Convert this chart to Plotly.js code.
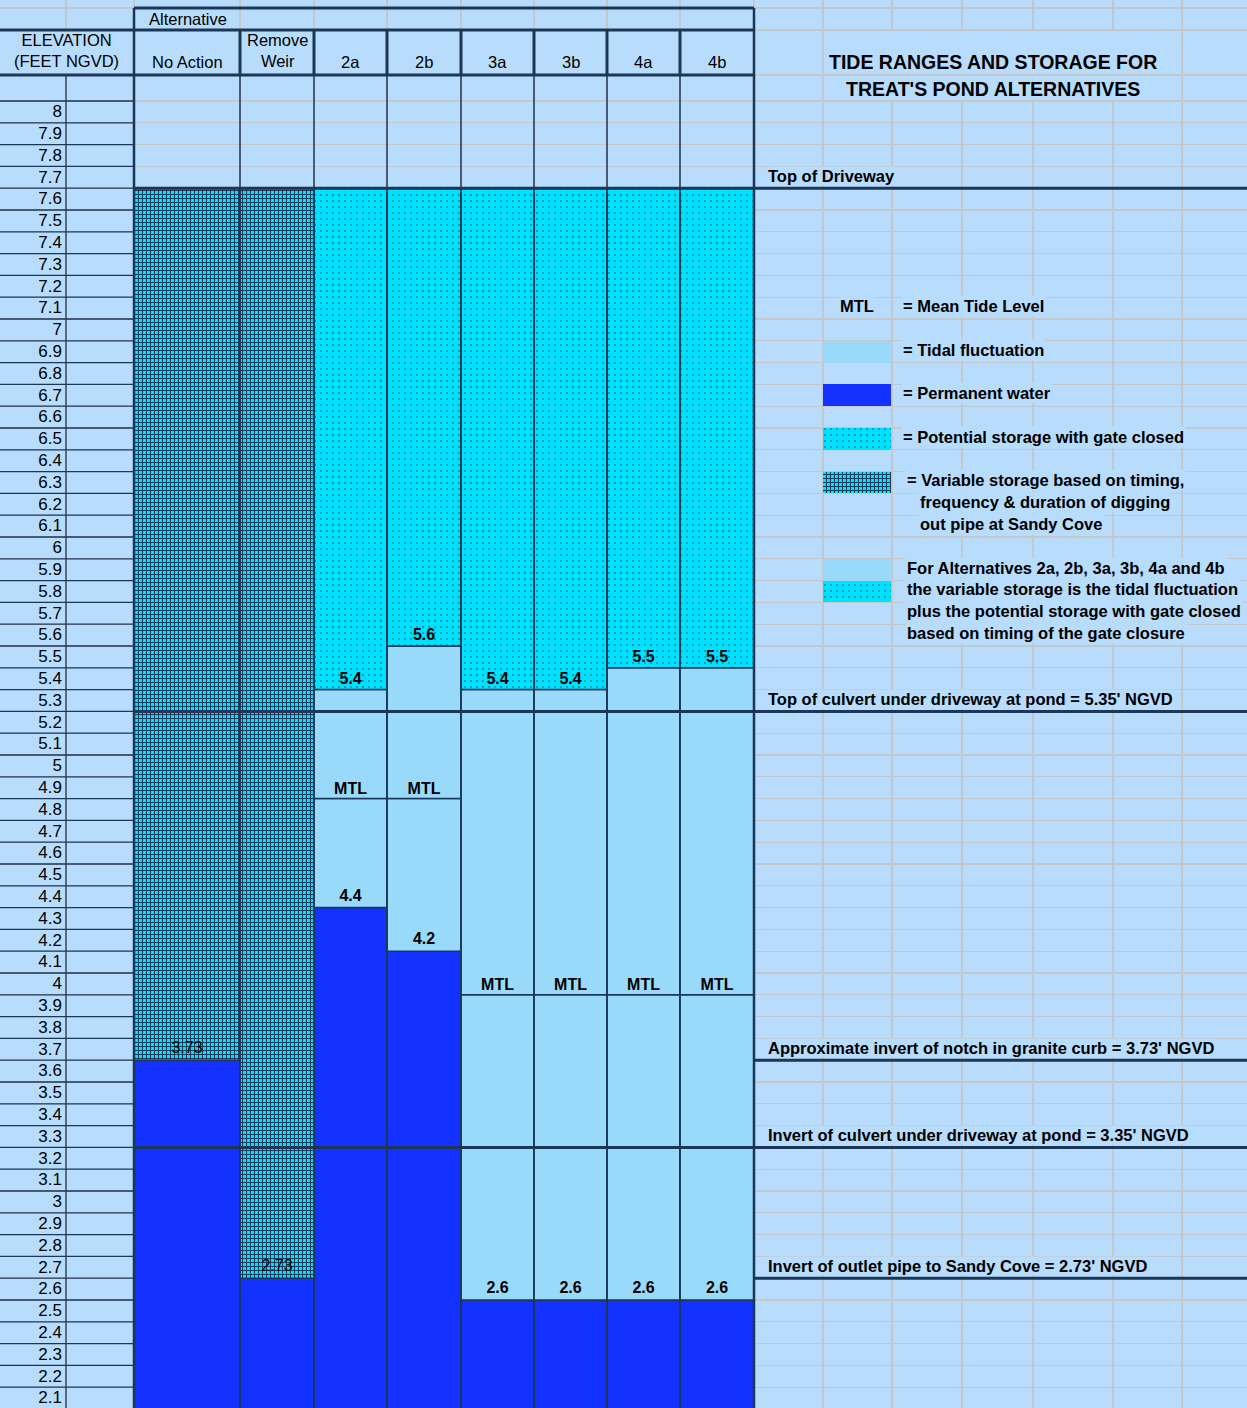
<!DOCTYPE html>
<html>
<head>
<meta charset="utf-8">
<script src="https://cdn.plot.ly/plotly-3.0.1.min.js"></script>
<style>
  html, body { margin: 0; padding: 0; background: #B7DCFC; }
  #chart { width: 1247px; height: 1408px; }
  #chart pattern path, #chart pattern rect { shape-rendering: crispEdges; }
</style>
</head>
<body>
<div id="chart"></div>
<script>
// ================= DATA =================
const alternatives = ['No Action', 'Remove<br>Weir', '2a', '2b', '3a', '3b', '4a', '4b'];
// top of permanent water (ft NGVD)
const permanentWaterTop = [3.73, 2.73, 4.4, 4.2, 2.6, 2.6, 2.6, 2.6];
// mean tide level (only for gate alternatives)
const meanTideLevel = [null, null, 4.9, 4.9, 4.0, 4.0, 4.0, 4.0];
// bottom of potential storage with gate closed
const gateClosedLevel = [null, null, 5.4, 5.6, 5.4, 5.4, 5.5, 5.5];
// top of storage = top of driveway
const storageTop = [7.7, 7.7, 7.7, 7.7, 7.7, 7.7, 7.7, 7.7];

// elevation rows of the sheet (ft NGVD)
const elevationRows = [8, 7.9, 7.8, 7.7, 7.6, 7.5, 7.4, 7.3, 7.2, 7.1, 7, 6.9, 6.8, 6.7, 6.6, 6.5, 6.4, 6.3, 6.2, 6.1,
  6, 5.9, 5.8, 5.7, 5.6, 5.5, 5.4, 5.3, 5.2, 5.1, 5, 4.9, 4.8, 4.7, 4.6, 4.5, 4.4, 4.3, 4.2, 4.1,
  4, 3.9, 3.8, 3.7, 3.6, 3.5, 3.4, 3.3, 3.2, 3.1, 3, 2.9, 2.8, 2.7, 2.6, 2.5, 2.4, 2.3, 2.2, 2.1];

// reference levels and their notes
const referenceLevels = [7.7, 5.35, 3.73, 3.35, 2.73];
const referenceNotes = [
  'Top of Driveway',
  "Top of culvert under driveway at pond = 5.35' NGVD",
  "Approximate invert of notch in granite curb = 3.73' NGVD",
  "Invert of culvert under driveway at pond = 3.35' NGVD",
  "Invert of outlet pipe to Sandy Cove = 2.73' NGVD"
];

// legend texts
const legendText = [
  '= Mean Tide Level',
  '= Tidal fluctuation',
  '= Permanent water',
  '= Potential storage with gate closed',
  '= Variable storage based on timing,',
  'frequency & duration of digging',
  'out pipe at Sandy Cove',
  'For Alternatives 2a, 2b, 3a, 3b, 4a and 4b',
  'the variable storage is the tidal fluctuation',
  'plus the potential storage with gate closed',
  'based on timing of the gate closure'
];
const titleLines = ['TIDE RANGES AND STORAGE FOR', "TREAT'S POND ALTERNATIVES"];
const headerTitle = 'Alternative';
const elevationHeader = 'ELEVATION<br>(FEET NGVD)';

// ================= LAYOUT CONSTANTS =================
const W = 1247, H = 1408;
const COL_EDGES = [134, 240, 314, 387, 461, 534, 607, 680, 754];
const SHEET_COLS = [66, 134, 240, 314, 387, 461, 534, 607, 680, 754, 823, 892, 962, 1033, 1113, 1182];
const PX_TOP = 101, V_TOP = 8.1, PX_PER_FT = 218;
const V = py => V_TOP - (py - PX_TOP) / PX_PER_FT;     // sheet pixel row -> elevation axis
const row = v => Math.floor(v * 10 + 1e-6) / 10;        // spreadsheet row in which a level falls
const BASE = 2.0;
const NOTE_X = 767;
const LEG_X = 857, LEG_W = 68;
const legendTextRow = [7.1, 6.9, 6.7, 6.5, 6.3, 6.2, 6.1, 5.9, 5.8, 5.7, 5.6];
const legendTextX = [901, 901, 901, 901, 905, 918, 918, 905, 905, 905, 905];
const refLineStart = [134, 134, 754, 134, 754];

const C = {
  sheet: '#B7DCFC', grid: '#C5C8CB', border: '#1B3656', tidal: '#99D9FA',
  perm: '#1432FF', cyan: '#00E1FF', dot: '#0E2C44', text: '#000000'
};
const FONT = 'Liberation Sans, Arial, sans-serif';

const cx = i => (COL_EDGES[i] + COL_EDGES[i + 1]) / 2;
const cw = i => COL_EDGES[i + 1] - COL_EDGES[i];
const idxAll = alternatives.map((_, i) => i);
const idxGate = idxAll.filter(i => meanTideLevel[i] !== null);
const idxVar = idxAll.filter(i => meanTideLevel[i] === null);

const hatch = { shape: '+', size: 4, solidity: 0.42, fgcolor: C.border, bgcolor: C.cyan, fillmode: 'replace' };
const dots = { shape: '.', size: 6, solidity: 0.04, fgcolor: C.dot, bgcolor: C.cyan, fillmode: 'replace' };

function barTrace(idx, lo, hi, marker, lineW) {
  return {
    type: 'bar', x: idx.map(cx), base: idx.map(lo), y: idx.map(i => hi(i) - lo(i)),
    width: idx.map(cw), hoverinfo: 'skip', showlegend: false,
    marker: Object.assign({ line: { color: C.border, width: lineW === undefined ? 1.5 : lineW } }, marker)
  };
}

const traces = [];
// bars
traces.push(barTrace(idxAll, () => BASE, i => row(permanentWaterTop[i]), { color: C.perm }));
traces.push(barTrace(idxVar, i => row(permanentWaterTop[i]), i => row(storageTop[i]), { color: C.cyan, pattern: hatch }));
traces.push(barTrace(idxGate, i => row(permanentWaterTop[i]), i => row(meanTideLevel[i]), { color: C.tidal }));
traces.push(barTrace(idxGate, i => row(meanTideLevel[i]), i => row(gateClosedLevel[i]), { color: C.tidal }));
traces.push(barTrace(idxGate, i => row(gateClosedLevel[i]), i => row(storageTop[i]), { color: C.cyan, pattern: dots }));

// legend swatches
function swatch(r, marker) {
  return { type: 'bar', x: [LEG_X], base: [r], y: [0.1], width: [LEG_W], hoverinfo: 'skip', showlegend: false,
    marker: Object.assign({ line: { width: 0 } }, marker) };
}
traces.push(swatch(legendTextRow[1], { color: C.tidal }));
traces.push(swatch(legendTextRow[2], { color: C.perm }));
traces.push(swatch(legendTextRow[3], { color: C.cyan, pattern: dots }));
traces.push(swatch(legendTextRow[4], { color: C.cyan, pattern: hatch }));
traces.push(swatch(legendTextRow[7], { color: C.tidal }));
traces.push(swatch(legendTextRow[8], { color: C.cyan, pattern: dots }));

// reference lines
const rx = [], ry = [];
referenceLevels.forEach((v, k) => { rx.push(refLineStart[k], W, null); ry.push(row(v), row(v), null); });
traces.push({ type: 'scatter', mode: 'lines', x: rx, y: ry, line: { color: C.border, width: 3 }, hoverinfo: 'skip', showlegend: false });

// value labels inside bars
const lx = [], ly = [], lt = [];
idxAll.forEach(i => {
  lx.push(cx(i)); ly.push(row(permanentWaterTop[i]) + 0.05);
  lt.push(meanTideLevel[i] === null ? String(permanentWaterTop[i]) : '<b>' + permanentWaterTop[i] + '</b>');
});
idxGate.forEach(i => {
  lx.push(cx(i)); ly.push(row(meanTideLevel[i]) + 0.04); lt.push('<b>MTL</b>');
  lx.push(cx(i)); ly.push(row(gateClosedLevel[i]) + 0.045); lt.push('<b>' + gateClosedLevel[i] + '</b>');
});
traces.push({ type: 'scatter', mode: 'text', x: lx, y: ly, text: lt, textposition: 'middle center',
  textfont: { family: FONT, size: 16, color: C.text }, hoverinfo: 'skip', showlegend: false, cliponaxis: false });

// elevation labels
traces.push({ type: 'scatter', mode: 'text', x: elevationRows.map(() => 62), y: elevationRows.map(v => v + 0.045),
  text: elevationRows.map(v => String(v)), textposition: 'middle left',
  textfont: { family: FONT, size: 17, color: C.text }, hoverinfo: 'skip', showlegend: false, cliponaxis: false });

// ================= SHAPES (sheet frame) =================
const shapes = [];
const rect = (x0, x1, y0, y1) => ({ type: 'rect', layer: 'above', xref: 'x', yref: 'y', x0, x1, y0, y1,
  fillcolor: C.sheet, line: { width: 0 } });
const hline = (x0, x1, y, w) => ({ type: 'line', layer: 'above', xref: 'x', yref: 'y', x0, x1, y0: y, y1: y,
  line: { color: C.border, width: w } });
const vline = (x, y0, y1, w) => ({ type: 'line', layer: 'above', xref: 'x', yref: 'y', x0: x, x1: x, y0, y1,
  line: { color: C.border, width: w } });

const yBottom = V(H), yTop = V(0);
// merged header cells hide gridlines
shapes.push(rect(0, 754, V(74), V(31)));
// title cells hide gridlines
shapes.push(rect(824, 1181, V(74), V(31)));
shapes.push(rect(824, 1181, V(100), V(76)));
// elevation column rows
shapes.push(hline(0, 134, elevationRows[0] + 0.1, 1.3));
elevationRows.forEach(v => shapes.push(hline(0, 134, v, 1.3)));
shapes.push(vline(66, V(75), yBottom - 0.2, 1.3));
// table columns
for (let k = 1; k < COL_EDGES.length - 1; k++) {
  shapes.push(vline(COL_EDGES[k], V(75), yBottom - 0.2, 1.5));
  shapes.push(vline(COL_EDGES[k], V(30), V(75), 3));
}
shapes.push(vline(134, V(8), yBottom - 0.2, 2.5));
shapes.push(vline(754, V(8), yBottom - 0.2, 2.5));
// header borders
shapes.push(hline(134, 754, V(8), 3));
shapes.push(hline(0, 754, V(30), 3));
shapes.push(hline(0, 754, V(75), 3));

// ================= ANNOTATIONS (text) =================
const ann = [];
const A = (x, y, text, opt) => Object.assign({ xref: 'x', yref: 'y', x, y, text, showarrow: false,
  xanchor: 'center', yanchor: 'middle', font: { family: FONT, size: 16.5, color: C.text } }, opt || {});

ann.push(A(66, V(50), elevationHeader));
ann.push(A(188, V(19), headerTitle));
idxAll.forEach(i => {
  const twoLine = alternatives[i].indexOf('<br>') >= 0;
  ann.push(A(cx(i), V(twoLine ? 50 : 62), alternatives[i]));
});
ann.push(A(993, V(62), titleLines[0], { font: { family: FONT, size: 19.5, color: C.text, weight: 'bold' } }));
ann.push(A(993, V(89), titleLines[1], { font: { family: FONT, size: 19.5, color: C.text, weight: 'bold' } }));

referenceLevels.forEach((v, k) => {
  ann.push(A(NOTE_X, row(v) + 0.055, referenceNotes[k], { xanchor: 'left', bgcolor: C.sheet, borderpad: 0,
    font: { family: FONT, size: 16.5, color: C.text, weight: 'bold' } }));
});
ann.push(A(LEG_X, legendTextRow[0] + 0.06, 'MTL', { bgcolor: C.sheet, borderpad: 0,
  font: { family: FONT, size: 16.5, color: C.text, weight: 'bold' } }));
legendText.forEach((t, k) => {
  ann.push(A(legendTextX[k], legendTextRow[k] + 0.06, t, { xanchor: 'left', bgcolor: C.sheet, borderpad: 1,
    font: { family: FONT, size: 16.5, color: C.text, weight: 'bold' } }));
});

// gridline positions of the sheet
const sheetRowLines = elevationRows.concat([elevationRows[0] + 0.1, V(75), V(30), V(8)]);

const layout = {
  width: W, height: H,
  margin: { l: 0, r: 0, t: 0, b: 0, pad: 0 },
  paper_bgcolor: C.sheet, plot_bgcolor: C.sheet,
  barmode: 'overlay', bargap: 0, hovermode: false, showlegend: false,
  xaxis: { range: [0, W], fixedrange: true, showticklabels: false, ticks: '', zeroline: false, showline: false,
    tickmode: 'array', tickvals: SHEET_COLS, showgrid: true, gridcolor: C.grid, gridwidth: 1.3 },
  yaxis: { range: [yBottom, yTop], fixedrange: true, showticklabels: false, ticks: '', zeroline: false, showline: false,
    tickmode: 'array', tickvals: sheetRowLines, showgrid: true, gridcolor: C.grid, gridwidth: 1.3 },
  shapes: shapes,
  annotations: ann
};

Plotly.newPlot('chart', traces, layout, { staticPlot: true, displayModeBar: false });
</script>
</body>
</html>
